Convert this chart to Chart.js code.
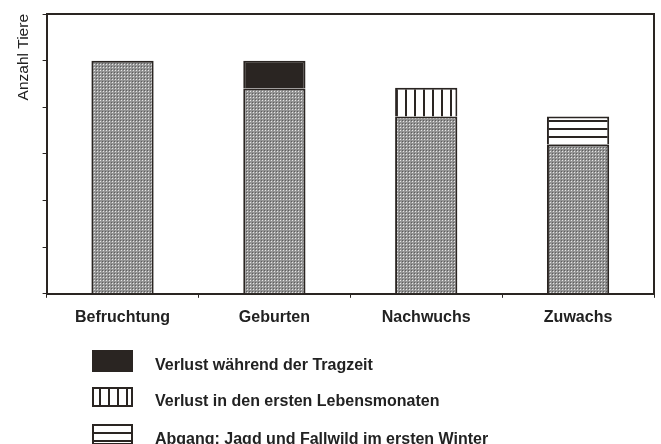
<!DOCTYPE html>
<html>
<head>
<meta charset="utf-8">
<script src="https://cdn.jsdelivr.net/npm/chart.js@4/dist/chart.umd.min.js"></script>
<style>
  body { margin: 0; background: #fff; }
  #wrap { width: 661px; height: 444px; }
</style>
</head>
<body>
<div id="wrap"><canvas id="chart"></canvas></div>
<script>
const categories = ['Befruchtung', 'Geburten', 'Nachwuchs', 'Zuwachs'];
const bestand = [5, 4.4, 3.8, 3.2];
const verlustTragzeit = [null, 0.6, null, null];
const verlustLebensmonate = [null, null, 0.62, null];
const abgangWinter = [null, null, null, 0.6];
const yMax = 6;

const ink = '#2a2522';
const font = '"Liberation Sans", Arial, sans-serif';

function makePattern(w, h, draw) {
  const c = document.createElement('canvas');
  c.width = w; c.height = h;
  const g = c.getContext('2d');
  draw(g, w, h);
  return g.createPattern(c, 'repeat');
}

// grauer Punktraster
const dots = makePattern(3, 3, (g, w, h) => {
  g.fillStyle = '#949494'; g.fillRect(0, 0, w, h);
  g.fillStyle = '#e6e6e6'; g.fillRect(1, 1, 1, 1);
  g.fillStyle = '#5e5e5e'; g.fillRect(0, 0, 1, 1);
});
const vertStripes = makePattern(9, 2, (g, w, h) => {
  g.fillStyle = '#fff'; g.fillRect(0, 0, w, h);
  g.fillStyle = ink; g.fillRect(0, 0, 2, h);
});
const horzStripes = makePattern(2, 8, (g, w, h) => {
  g.fillStyle = '#fff'; g.fillRect(0, 0, w, h);
  g.fillStyle = ink; g.fillRect(0, 0, w, 2);
});

const frame = {
  id: 'frame',
  afterDatasetsDraw(chart) {
    const { ctx, chartArea: a } = chart;
    ctx.save();
    ctx.strokeStyle = ink;
    ctx.lineWidth = 2;
    ctx.beginPath();
    ctx.moveTo(a.left, a.top);
    ctx.lineTo(a.right, a.top);
    ctx.lineTo(a.right, a.bottom);
    ctx.stroke();
    ctx.restore();
  }
};

const bottomLegend = {
  id: 'bottomLegend',
  afterDraw(chart) {
    const ctx = chart.ctx;
    const items = chart.data.datasets.filter(d => d.inLegend);
    const boxH = [22, 20, 21];
    ctx.save();
    items.forEach((d, i) => {
      const y = 350 + i * 37;
      ctx.fillStyle = d.backgroundColor;
      ctx.fillRect(92, y, 41, boxH[i]);
      ctx.strokeStyle = ink;
      ctx.lineWidth = 2;
      ctx.strokeRect(93, y + 1, 39, boxH[i] - 2);
      ctx.fillStyle = '#222';
      ctx.font = 'bold 16px ' + font;
      ctx.textBaseline = 'middle';
      ctx.fillText(d.label, 155, y + boxH[i] / 2 + 5);
    });
    ctx.restore();
  }
};

new Chart(document.getElementById('chart'), {
  type: 'bar',
  data: {
    labels: categories,
    datasets: [
      { label: 'Bestand', data: bestand, backgroundColor: dots },
      { label: 'Verlust während der Tragzeit', data: verlustTragzeit, backgroundColor: ink, inLegend: true },
      { label: 'Verlust in den ersten Lebensmonaten', data: verlustLebensmonate, backgroundColor: vertStripes, inLegend: true },
      { label: 'Abgang: Jagd und Fallwild im ersten Winter', data: abgangWinter, backgroundColor: horzStripes, inLegend: true }
    ]
  },
  options: {
    responsive: true,
    maintainAspectRatio: false,
    animation: false,
    layout: { padding: { left: 10, right: 7, top: 14, bottom: 107 } },
    datasets: {
      bar: {
        borderColor: ink,
        borderWidth: 2,
        categoryPercentage: 1,
        barPercentage: 0.41
      }
    },
    scales: {
      x: {
        stacked: true,
        border: { color: ink, width: 2 },
        grid: { drawOnChartArea: false, drawTicks: true, tickLength: 4, color: ink, lineWidth: 1 },
        ticks: { color: '#222', padding: 10, font: { family: font, size: 16, weight: 'bold' } }
      },
      y: {
        stacked: true,
        min: 0,
        max: yMax,
        border: { color: ink, width: 2 },
        grid: { drawOnChartArea: false, drawTicks: true, tickLength: 4, color: ink, lineWidth: 1 },
        ticks: { display: false, stepSize: 1 },
        title: {
          display: true,
          text: 'Anzahl Tiere',
          align: 'end',
          color: '#222',
          padding: { top: 4, bottom: 10 },
          font: { family: font, size: 15.5 }
        }
      }
    },
    plugins: {
      legend: { display: false },
      tooltip: { enabled: false }
    }
  },
  plugins: [frame, bottomLegend]
});
</script>
</body>
</html>
